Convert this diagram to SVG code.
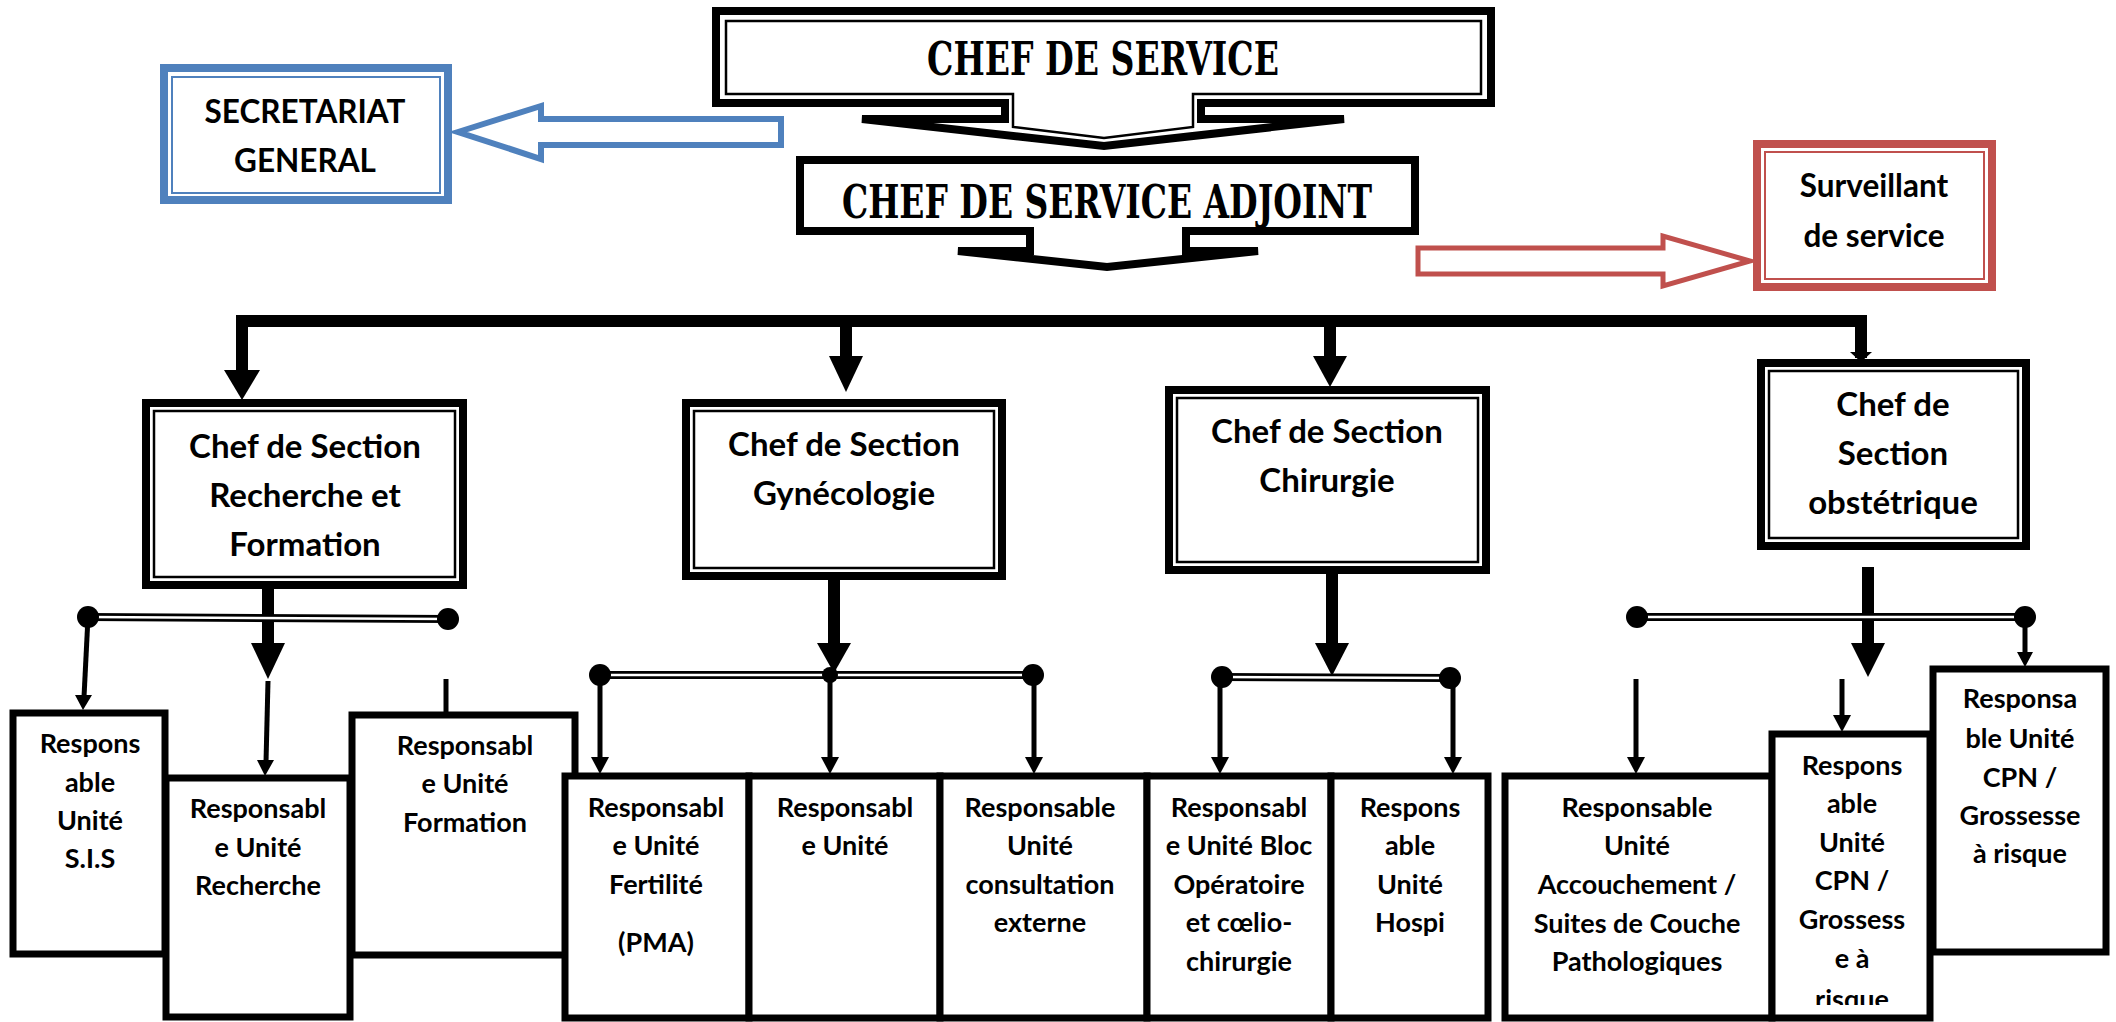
<svg xmlns="http://www.w3.org/2000/svg" width="2116" height="1022" viewBox="0 0 2116 1022">
<style>
.t{font-family:Lato,"Liberation Sans",sans-serif;font-weight:700;fill:#000;text-anchor:middle}
.u{font-size:27px}
.s{font-size:33px}
.h{font-family:"DejaVu Serif","Liberation Serif",serif;font-weight:700;font-size:47px;fill:#000;text-anchor:middle}
.box{fill:#fff;stroke:#000;stroke-width:7}
.thick{fill:#fff;stroke:#000;stroke-width:8}
.thin{fill:none;stroke:#000;stroke-width:2.5}
.bus{fill:none;stroke:#000;stroke-width:12;stroke-linejoin:miter}
.ln{fill:none;stroke:#000;stroke-width:5}
.dbl{fill:none;stroke:#000;stroke-width:8}
.dblw{fill:none;stroke:#fff;stroke-width:2.5}
.hd{fill:#000}
</style>
<defs>
<clipPath id="cpnclip"><rect x="1775" y="734" width="153" height="271"/></clipPath>
</defs>

<g id="connectors">
  <path class="bus" d="M242,372 V321 H1861 V358"/>
  <line class="bus" x1="846" y1="321" x2="846" y2="358"/>
  <line class="bus" x1="1330" y1="321" x2="1330" y2="358"/>
  <polygon class="hd" points="224,370 260,370 242,400"/>
  <polygon class="hd" points="829,356 863,356 846,392"/>
  <polygon class="hd" points="1313,356 1347,356 1330,387"/>
  <polygon class="hd" points="1850,352 1872,352 1861,362"/>

  <line class="bus" x1="268" y1="589" x2="268" y2="645"/>
  <polygon class="hd" points="251,643 285,643 268,679"/>
  <line class="dbl" x1="88" y1="617" x2="448" y2="619"/>
  <line class="dblw" x1="88" y1="617" x2="448" y2="619"/>
  <circle cx="88" cy="617" r="11"/>
  <circle cx="448" cy="619" r="11"/>
  <line class="ln" x1="88" y1="617" x2="84" y2="697"/>
  <polygon class="hd" points="75,695 92,695 83,710"/>
  <line class="ln" x1="268" y1="681" x2="266" y2="762"/>
  <polygon class="hd" points="257,760 274,760 265,776"/>
  <line class="ln" x1="446" y1="679" x2="446" y2="713"/>

  <line class="bus" x1="834" y1="580" x2="834" y2="645"/>
  <polygon class="hd" points="817,643 851,643 834,673"/>
  <line class="dbl" x1="600" y1="675" x2="1033" y2="675"/>
  <line class="dblw" x1="600" y1="675" x2="1033" y2="675"/>
  <circle cx="600" cy="675" r="11"/>
  <circle cx="830" cy="675" r="8"/>
  <circle cx="1033" cy="675" r="11"/>
  <line class="ln" x1="600" y1="675" x2="600" y2="760"/>
  <polygon class="hd" points="591,757 609,757 600,774"/>
  <line class="ln" x1="830" y1="675" x2="830" y2="760"/>
  <polygon class="hd" points="821,757 839,757 830,774"/>
  <line class="ln" x1="1034" y1="675" x2="1034" y2="760"/>
  <polygon class="hd" points="1025,757 1043,757 1034,774"/>

  <line class="bus" x1="1332" y1="574" x2="1332" y2="645"/>
  <polygon class="hd" points="1315,643 1349,643 1332,676"/>
  <line class="dbl" x1="1222" y1="677" x2="1450" y2="678"/>
  <line class="dblw" x1="1222" y1="677" x2="1450" y2="678"/>
  <circle cx="1222" cy="677" r="11"/>
  <circle cx="1450" cy="678" r="11"/>
  <line class="ln" x1="1220" y1="677" x2="1220" y2="760"/>
  <polygon class="hd" points="1211,757 1229,757 1220,774"/>
  <line class="ln" x1="1453" y1="678" x2="1453" y2="760"/>
  <polygon class="hd" points="1444,757 1462,757 1453,774"/>

  <line class="bus" x1="1868" y1="567" x2="1868" y2="645"/>
  <polygon class="hd" points="1851,643 1885,643 1868,677"/>
  <line class="dbl" x1="1637" y1="617" x2="2025" y2="617"/>
  <line class="dblw" x1="1637" y1="617" x2="2025" y2="617"/>
  <circle cx="1637" cy="617" r="11"/>
  <circle cx="2025" cy="617" r="11"/>
  <line class="ln" x1="2025" y1="617" x2="2025" y2="654"/>
  <polygon class="hd" points="2017,652 2033,652 2025,667"/>
  <line class="ln" x1="1636" y1="679" x2="1636" y2="759"/>
  <polygon class="hd" points="1627,757 1645,757 1636,774"/>
  <line class="ln" x1="1842" y1="679" x2="1842" y2="717"/>
  <polygon class="hd" points="1833,715 1851,715 1842,732"/>

  <polygon points="458,132 541,106 541,119 781,119 781,145 541,145 541,159" fill="#fff" stroke="#4F81BD" stroke-width="6"/>
  <polygon points="1418,248 1663,248 1663,236 1750,261 1663,286 1663,274 1418,274" fill="#fff" stroke="#C0504D" stroke-width="5"/>
</g>

<g id="chef-service">
  <path class="thick" d="M716,11 H1491 V103 H1201 V119 H1344 L1104,146 L862,119 H1005 V103 H716 Z"/>
  <path class="thin" d="M726,21 H1481 V94 H1193 V127 L1104,138 L1013,127 V94 H726 Z"/>
  <text class="h" x="1103" y="75" textLength="352" lengthAdjust="spacingAndGlyphs">CHEF DE SERVICE</text>
</g>

<g id="chef-service-adjoint">
  <path class="thick" d="M800,160 H1415 V231 H1186 V251 H1258 L1107,267 L958,251 H1030 V231 H800 Z"/>
  <text class="h" x="1107" y="218" textLength="530" lengthAdjust="spacingAndGlyphs">CHEF DE SERVICE ADJOINT</text>
</g>

<g id="secretariat">
  <rect x="164" y="68" width="284" height="132" fill="#fff" stroke="#4F81BD" stroke-width="8"/>
  <rect x="172" y="77" width="268" height="116" fill="none" stroke="#4F81BD" stroke-width="2"/>
  <text class="t s" x="305" y="123" style="font-size:31.5px">SECRETARIAT</text>
  <text class="t s" x="305" y="172" style="font-size:31.5px">GENERAL</text>
</g>

<g id="surveillant">
  <rect x="1757" y="144" width="235" height="143" fill="#fff" stroke="#C0504D" stroke-width="8"/>
  <rect x="1765" y="152" width="219" height="127" fill="none" stroke="#C0504D" stroke-width="2"/>
  <text class="t s" x="1874" y="197" style="font-size:31.5px">Surveillant</text>
  <text class="t s" x="1874" y="247" style="font-size:31.5px">de service</text>
</g>

<g id="section-recherche">
  <rect class="thick" x="146" y="403" width="317" height="182"/>
  <rect class="thin" x="154" y="411" width="301" height="166"/>
  <text class="t s" x="305" y="458">Chef de Section</text>
  <text class="t s" x="305" y="507">Recherche et</text>
  <text class="t s" x="305" y="556">Formation</text>
</g>

<g id="section-gynecologie">
  <rect class="thick" x="686" y="403" width="316" height="173"/>
  <rect class="thin" x="694" y="411" width="300" height="157"/>
  <text class="t s" x="844" y="456">Chef de Section</text>
  <text class="t s" x="844" y="505">Gynécologie</text>
</g>

<g id="section-chirurgie">
  <rect class="thick" x="1169" y="390" width="317" height="180"/>
  <rect class="thin" x="1177" y="398" width="301" height="164"/>
  <text class="t s" x="1327" y="443">Chef de Section</text>
  <text class="t s" x="1327" y="492">Chirurgie</text>
</g>

<g id="section-obstetrique">
  <rect class="thick" x="1761" y="363" width="265" height="183"/>
  <rect class="thin" x="1769" y="371" width="249" height="167"/>
  <text class="t s" x="1893" y="416">Chef de</text>
  <text class="t s" x="1893" y="465">Section</text>
  <text class="t s" x="1893" y="514">obstétrique</text>
</g>

<g id="unite-sis">
  <rect class="box" x="13" y="713" width="152" height="241"/>
  <text class="t u" x="90" y="753">Respons</text>
  <text class="t u" x="90" y="792">able</text>
  <text class="t u" x="90" y="830">Unité</text>
  <text class="t u" x="90" y="868">S.I.S</text>
</g>

<g id="unite-recherche">
  <rect class="box" x="166" y="778" width="184" height="239"/>
  <text class="t u" x="258" y="818">Responsabl</text>
  <text class="t u" x="258" y="857">e Unité</text>
  <text class="t u" x="258" y="895">Recherche</text>
</g>

<g id="unite-formation">
  <rect class="box" x="352" y="715" width="223" height="240"/>
  <text class="t u" x="465" y="755">Responsabl</text>
  <text class="t u" x="465" y="793">e Unité</text>
  <text class="t u" x="465" y="832">Formation</text>
</g>

<g id="unite-fertilite">
  <rect class="box" x="565" y="776" width="184" height="242"/>
  <text class="t u" x="656" y="817">Responsabl</text>
  <text class="t u" x="656" y="855">e Unité</text>
  <text class="t u" x="656" y="894">Fertilité</text>
  <text class="t u" x="656" y="952">(PMA)</text>
</g>

<g id="unite-gyn">
  <rect class="box" x="749" y="776" width="191" height="242"/>
  <text class="t u" x="845" y="817">Responsabl</text>
  <text class="t u" x="845" y="855">e Unité</text>
</g>

<g id="unite-consultation">
  <rect class="box" x="940" y="776" width="207" height="242"/>
  <text class="t u" x="1040" y="817">Responsable</text>
  <text class="t u" x="1040" y="855">Unité</text>
  <text class="t u" x="1040" y="894">consultation</text>
  <text class="t u" x="1040" y="932">externe</text>
</g>

<g id="unite-bloc">
  <rect class="box" x="1147" y="776" width="184" height="242"/>
  <text class="t u" x="1239" y="817">Responsabl</text>
  <text class="t u" x="1239" y="855">e Unité Bloc</text>
  <text class="t u" x="1239" y="894">Opératoire</text>
  <text class="t u" x="1239" y="932">et cœlio-</text>
  <text class="t u" x="1239" y="971">chirurgie</text>
</g>

<g id="unite-hospi">
  <rect class="box" x="1331" y="776" width="157" height="242"/>
  <text class="t u" x="1410" y="817">Respons</text>
  <text class="t u" x="1410" y="855">able</text>
  <text class="t u" x="1410" y="894">Unité</text>
  <text class="t u" x="1410" y="932">Hospi</text>
</g>

<g id="unite-accouchement">
  <rect class="box" x="1505" y="776" width="267" height="242"/>
  <text class="t u" x="1637" y="817">Responsable</text>
  <text class="t u" x="1637" y="855">Unité</text>
  <text class="t u" x="1637" y="894">Accouchement /</text>
  <text class="t u" x="1637" y="933">Suites de Couche</text>
  <text class="t u" x="1637" y="971">Pathologiques</text>
</g>

<g id="unite-cpn">
  <rect class="box" x="1772" y="734" width="158" height="284"/>
  <g clip-path="url(#cpnclip)">
    <text class="t u" x="1852" y="775">Respons</text>
    <text class="t u" x="1852" y="813">able</text>
    <text class="t u" x="1852" y="852">Unité</text>
    <text class="t u" x="1852" y="890">CPN /</text>
    <text class="t u" x="1852" y="929">Grossess</text>
    <text class="t u" x="1852" y="968">e à</text>
    <text class="t u" x="1852" y="1009">risque</text>
  </g>
</g>

<g id="unite-cpn-risque">
  <rect class="box" x="1933" y="669" width="173" height="283"/>
  <text class="t u" x="2020" y="708">Responsa</text>
  <text class="t u" x="2020" y="748">ble Unité</text>
  <text class="t u" x="2020" y="787">CPN /</text>
  <text class="t u" x="2020" y="825">Grossesse</text>
  <text class="t u" x="2020" y="863">à risque</text>
</g>
</svg>
